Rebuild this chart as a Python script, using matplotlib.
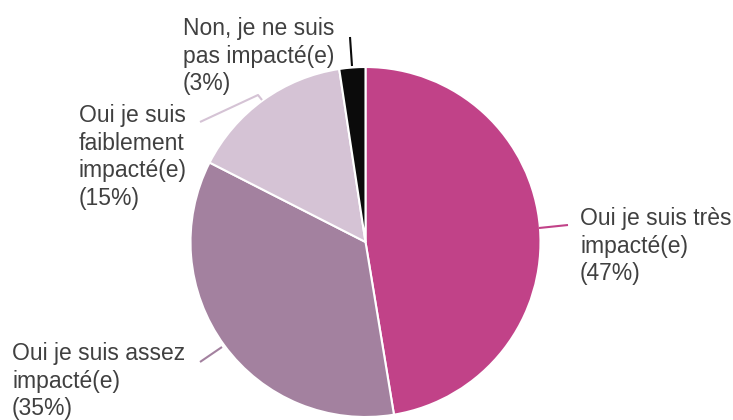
import matplotlib
matplotlib.use("Agg")
import matplotlib.pyplot as plt

# Data
categories = ["Oui je suis très impacté(e)", "Oui je suis assez impacté(e)",
              "Oui je suis faiblement impacté(e)", "Non, je ne suis pas impacté(e)"]
values = [47.4, 35.1, 15.1, 2.4]
pct_labels = ["(47%)", "(35%)", "(15%)", "(3%)"]
label_lines = [
    ["Oui je suis très", "impacté(e)", "(47%)"],
    ["Oui je suis assez", "impacté(e)", "(35%)"],
    ["Oui je suis", "faiblement", "impacté(e)", "(15%)"],
    ["Non, je ne suis", "pas impacté(e)", "(3%)"],
]
colors = ["#c14288", "#a3819f", "#d5c3d5", "#0b0b0b"]

W, H = 733, 420
fig = plt.figure(figsize=(W / 100, H / 100), dpi=100)
ax = fig.add_axes([0, 0, 1, 1])

cx, cy, R = 365.5, 242, 175
# y axis inverted (pixel coords): visual clockwise from top
ax.pie(values, colors=colors, startangle=-90, counterclock=True,
       center=(cx, cy), radius=R,
       wedgeprops=dict(edgecolor="white", linewidth=1.5))
ax.set_xlim(0, W)
ax.set_ylim(H, 0)
ax.set_aspect("auto")
ax.axis("off")

# leader lines
leaders = [
    ([539, 568], [228, 225]),
    ([222, 200], [347, 362]),
    ([262, 258, 200], [100, 95, 122]),
    ([352, 350], [66, 37]),
]
for (xs, ys), c in zip(leaders, colors):
    ax.plot(xs, ys, color=c, lw=1.5, solid_capstyle="butt")

# labels
anchors = [(580, 225), (12, 360), (79, 122), (183, 35)]
spacing = 27.6
for lines, (x0, y0) in zip(label_lines, anchors):
    for i, line in enumerate(lines):
        ax.text(x0, y0 + i * spacing, line, fontsize=16.5,
                family="Liberation Sans", color="#404040",
                ha="left", va="baseline")

fig.savefig("out.png", dpi=100)
